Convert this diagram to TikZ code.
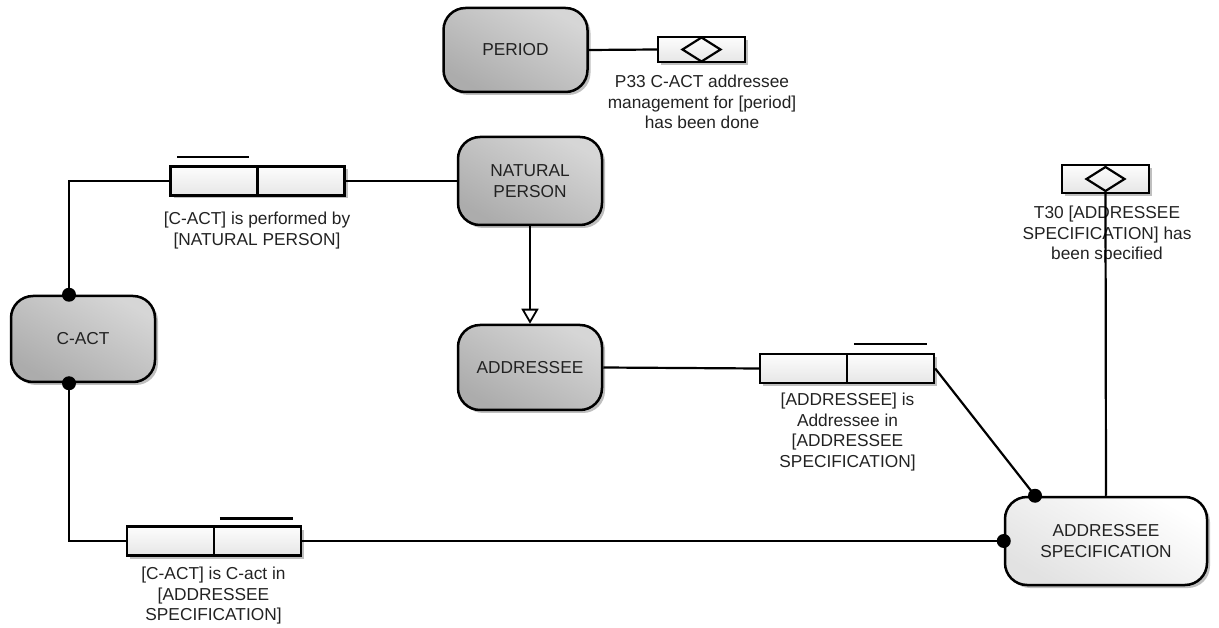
\documentclass[tikz,border=0pt]{standalone}
\usepackage{fontspec}
\setmainfont{Liberation Sans}
\usetikzlibrary{shadows,arrows.meta,calc}

\definecolor{entA}{HTML}{D6D6D6}
\definecolor{entB}{HTML}{ACACAC}
\definecolor{roleA}{HTML}{FDFDFD}
\definecolor{roleB}{HTML}{E6E6E6}
\definecolor{specA}{HTML}{FFFFFF}
\definecolor{specB}{HTML}{E2E2E2}
\definecolor{txt}{HTML}{222222}

\begin{document}
\begin{tikzpicture}[x=1pt,y=-1pt,
  font=\fontsize{17.3}{20.5}\selectfont,
  text=txt,
  soft shadow/.style={drop shadow={shadow xshift=3pt, shadow yshift=-3pt, opacity=0.25, fill=black}},
  entity/.style={draw=black, line width=2.5pt, rounded corners=22pt,
    minimum width=144pt, minimum height=86pt, inner sep=0pt, align=center,
    top color=entA, bottom color=entB, shading angle=-30, soft shadow},
  specnode/.style={entity, top color=specA, bottom color=specB, shading angle=-30,
    minimum width=202pt, minimum height=88pt},
  role/.style={draw=black, line width=2.4pt, minimum width=87pt, minimum height=29pt,
    inner sep=0pt, top color=roleA, bottom color=roleB, soft shadow},
  eventbox/.style={role, minimum height=26pt},
  label/.style={anchor=north, align=center, inner sep=0pt},
  link/.style={draw=black, line width=2.2pt},
  uniq/.style={draw=black, line width=2.4pt},
  dot/.style={fill=black},
]
\useasboundingbox (0,0) rectangle (1219,628);

% entity types
\node[entity, minimum height=84pt] (period) at (515.5,50) {PERIOD};
\node[entity, minimum height=88pt] (natp) at (530,181) {NATURAL\\PERSON};
\node[entity] (cact) at (83,339) {C-ACT};
\node[entity, minimum height=85pt] (addr) at (530,367.5) {ADDRESSEE};
\node[specnode] (spec) at (1106,541) {ADDRESSEE\\SPECIFICATION};

% fact types (two roles each)
\node[role] (f1a) at (214,181) {};
\node[role] (f1b) at (301,181) {};
\node[role] (f2a) at (803.5,368.5) {};
\node[role] (f2b) at (890.5,368.5) {};
\node[role] (f3a) at (170.5,541) {};
\node[role] (f3b) at (257.5,541) {};

% uniqueness bars
\draw[uniq] ($(f1a.north west)+(8,-8)$) -- ($(f1a.north east)+(-10,-8)$);
\draw[uniq] ($(f2b.north west)+(8,-9)$) -- ($(f2b.north east)+(-8,-9)$);
\draw[uniq] ($(f3b.north west)+(7,-7)$) -- ($(f3b.north east)+(-9,-7)$);

% event boxes with diamonds
\node[eventbox, minimum height=25pt] (p33) at (701.5,49.5) {};
\node[eventbox, minimum height=28pt] (t30) at (1105.5,179) {};
\draw[link] ($(p33.center)+(-19,0)$) -- ($(p33.center)+(0,-12)$) -- ($(p33.center)+(19,0)$) -- ($(p33.center)+(0,12)$) -- cycle;
\draw[link] ($(t30.center)+(-19,0)$) -- ($(t30.center)+(0,-12)$) -- ($(t30.center)+(19,0)$) -- ($(t30.center)+(0,12)$) -- cycle;

% labels
\node[label] (lp33) at (702,75) {P33 C-ACT addressee\\management for {[period]}\\has been done};
\node[label] (lf1) at (257,212) {{[C-ACT]} is performed by\\{[NATURAL PERSON]}};
\node[label] (lf2) at (847.5,393) {{[ADDRESSEE]} is\\Addressee in\\{[ADDRESSEE}\\{SPECIFICATION]}};
\node[label] (lt30) at (1107,206) {T30 {[ADDRESSEE}\\{SPECIFICATION]} has\\been specified};
\node[label] (lf3) at (213.5,567) {{[C-ACT]} is C-act in\\{[ADDRESSEE}\\{SPECIFICATION]}};

% connection points
\coordinate (cTop) at ($(cact.north)+(-14,0)$);
\coordinate (cBot) at ($(cact.south)+(-14,0)$);
\coordinate (sTop) at ($(spec.north)+(-71,0)$);
\coordinate (sLeft) at (spec.west);

% connectors
\draw[link] (period.east) -- (p33.west);
\draw[link] (cTop) |- (f1a.west);
\draw[link] (f1b.east) -- (natp.west);
\draw[link, -{Triangle[open, width=17pt, length=15pt, line width=1.8pt]}] (natp.south) -- (addr.north);
\draw[link] (addr.east) -- (f2a.west);
\draw[link] (f2b.east) -- (sTop);
\draw[link] (cBot) |- (f3a.west);
\draw[link] (f3b.east) -- (sLeft);
\draw[link] (spec.north) -- (t30.south);

% role attachment dots
\fill[dot] (cTop) circle (7pt);
\fill[dot] (cBot) circle (7pt);
\fill[dot] (sTop) circle (7pt);
\fill[dot] (sLeft) circle (7pt);
\end{tikzpicture}
\end{document}
